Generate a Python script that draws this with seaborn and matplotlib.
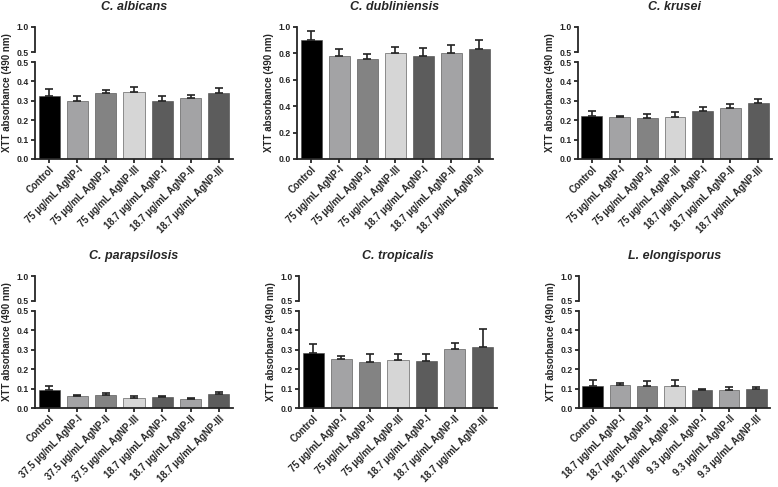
import matplotlib
matplotlib.use("Agg")
import matplotlib.pyplot as plt
import numpy as np
import pandas as pd
import seaborn as sns

# bar labels per panel
labels_75 = ["Control", "75 μg/mL AgNP-I", "75 μg/mL AgNP-II", "75 μg/mL AgNP-III",
             "18.7 μg/mL AgNP-I", "18.7 μg/mL AgNP-II", "18.7 μg/mL AgNP-III"]
labels_37 = ["Control", "37.5 μg/mL AgNP-I", "37.5 μg/mL AgNP-II", "37.5 μg/mL AgNP-III",
             "18.7 μg/mL AgNP-I", "18.7 μg/mL AgNP-II", "18.7 μg/mL AgNP-III"]
labels_18 = ["Control", "18.7 μg/mL AgNP-I", "18.7 μg/mL AgNP-II", "18.7 μg/mL AgNP-III",
             "9.3 μg/mL AgNP-I", "9.3 μg/mL AgNP-II", "9.3 μg/mL AgNP-III"]

# mean XTT absorbance and SD (upper error only)
albicans = [0.327, 0.297, 0.340, 0.345, 0.300, 0.312, 0.342]
albicans_err = [0.035, 0.027, 0.018, 0.028, 0.025, 0.018, 0.025]
dubliniensis = [0.900, 0.780, 0.755, 0.800, 0.780, 0.800, 0.835]
dubliniensis_err = [0.070, 0.055, 0.040, 0.050, 0.060, 0.060, 0.065]
krusei = [0.220, 0.215, 0.210, 0.215, 0.248, 0.265, 0.290]
krusei_err = [0.030, 0.005, 0.020, 0.025, 0.022, 0.018, 0.018]
parapsilosis = [0.092, 0.063, 0.068, 0.052, 0.058, 0.046, 0.072]
parapsilosis_err = [0.020, 0.004, 0.007, 0.010, 0.004, 0.008, 0.008]
tropicalis = [0.285, 0.253, 0.235, 0.250, 0.240, 0.305, 0.315]
tropicalis_err = [0.045, 0.015, 0.042, 0.028, 0.037, 0.030, 0.090]
elongisporus = [0.115, 0.117, 0.113, 0.113, 0.093, 0.095, 0.098]
elongisporus_err = [0.030, 0.010, 0.028, 0.033, 0.006, 0.012, 0.010]

colors = ["#000000", "#a2a2a6", "#838383", "#d6d6d6", "#5c5c5c", "#a2a2a6", "#5c5c5c"]

sns.set_theme(style="ticks")
plt.rcParams["font.family"] = ["Liberation Sans", "DejaVu Sans"]
plt.rcParams["axes.linewidth"] = 1.3
plt.rcParams["xtick.major.width"] = 1.3
plt.rcParams["ytick.major.width"] = 1.3
plt.rcParams["xtick.major.size"] = 3
plt.rcParams["ytick.major.size"] = 3
plt.rcParams["xtick.major.pad"] = 1.0
plt.rcParams["ytick.major.pad"] = 1.2

W, H = 778, 487
fig = plt.figure(figsize=(W / 100, H / 100), dpi=100)

TICK = 6.2
XTICK = 6.9


def box(x0, x1, ytop, ybot):
    return [x0 / W, 1 - ybot / H, (x1 - x0) / W, (ybot - ytop) / H]


def draw_bars(ax, labels, vals, errs):
    df = pd.DataFrame({"group": labels, "value": vals})
    sns.barplot(data=df, x="group", y="value", hue="group", palette=colors,
                width=0.75, errorbar=None, legend=False, ax=ax,
                edgecolor="#444444", linewidth=0.4)
    ax.errorbar(np.arange(len(vals)), vals, yerr=[np.zeros(len(vals)), errs],
                fmt="none", ecolor="#222222", elinewidth=1.2, capsize=3.2, capthick=1.2)
    ax.set_xlim(-0.5, 6.5)
    ax.set_xlabel("")
    ax.set_ylabel("")
    ax.set_xticks(range(len(labels)))
    ax.set_xticklabels(labels, rotation=45, ha="right", rotation_mode="anchor",
                       fontsize=XTICK, fontweight="bold")
    sns.despine(ax=ax)


def ylab(x0, ytop):
    fig.text((x0 - 28) / W, 1 - (ytop + 66) / H, "XTT absorbance (490 nm)", rotation=90,
             ha="center", va="center", fontsize=7, fontweight="bold")


def broken_panel(x0, x1, ytop, labels, vals, errs, title):
    top = fig.add_axes(box(x0, x1, ytop, ytop + 25))
    low = fig.add_axes(box(x0, x1, ytop + 35, ytop + 132))
    draw_bars(low, labels, vals, errs)
    low.set_ylim(0, 0.5)
    low.set_yticks([0, 0.1, 0.2, 0.3, 0.4, 0.5])
    low.set_yticklabels(["0.0", "0.1", "0.2", "0.3", "0.4", "0.5"], fontsize=TICK, fontweight="bold")
    top.set_ylim(0.5, 1.0)
    top.set_yticks([0.5, 1.0])
    top.set_yticklabels(["0.5", "1.0"], fontsize=TICK, fontweight="bold")
    top.set_xticks([])
    top.set_xlim(-0.5, 6.5)
    for s in ["top", "right", "bottom"]:
        top.spines[s].set_visible(False)
    top.patch.set_alpha(0)
    top.set_title(title, fontsize=9, fontweight="bold", fontstyle="italic", pad=12)
    ylab(x0, ytop)


def full_panel(x0, x1, ytop, labels, vals, errs, title):
    ax = fig.add_axes(box(x0, x1, ytop, ytop + 132))
    draw_bars(ax, labels, vals, errs)
    ax.set_ylim(0, 1.0)
    ax.set_yticks([0, 0.2, 0.4, 0.6, 0.8, 1.0])
    ax.set_yticklabels(["0.0", "0.2", "0.4", "0.6", "0.8", "1.0"], fontsize=TICK, fontweight="bold")
    ax.set_title(title, fontsize=9, fontweight="bold", fontstyle="italic", pad=12)
    ylab(x0, ytop)


broken_panel(35, 233, 27, labels_75, albicans, albicans_err, "C. albicans")
full_panel(297, 493, 27, labels_75, dubliniensis, dubliniensis_err, "C. dubliniensis")
broken_panel(578, 772, 27, labels_75, krusei, krusei_err, "C. krusei")
broken_panel(35, 233, 276, labels_37, parapsilosis, parapsilosis_err, "C. parapsilosis")
broken_panel(299, 497, 276, labels_75, tropicalis, tropicalis_err, "C. tropicalis")
broken_panel(579, 770, 276, labels_18, elongisporus, elongisporus_err, "L. elongisporus")

fig.savefig("out.png", dpi=100)
